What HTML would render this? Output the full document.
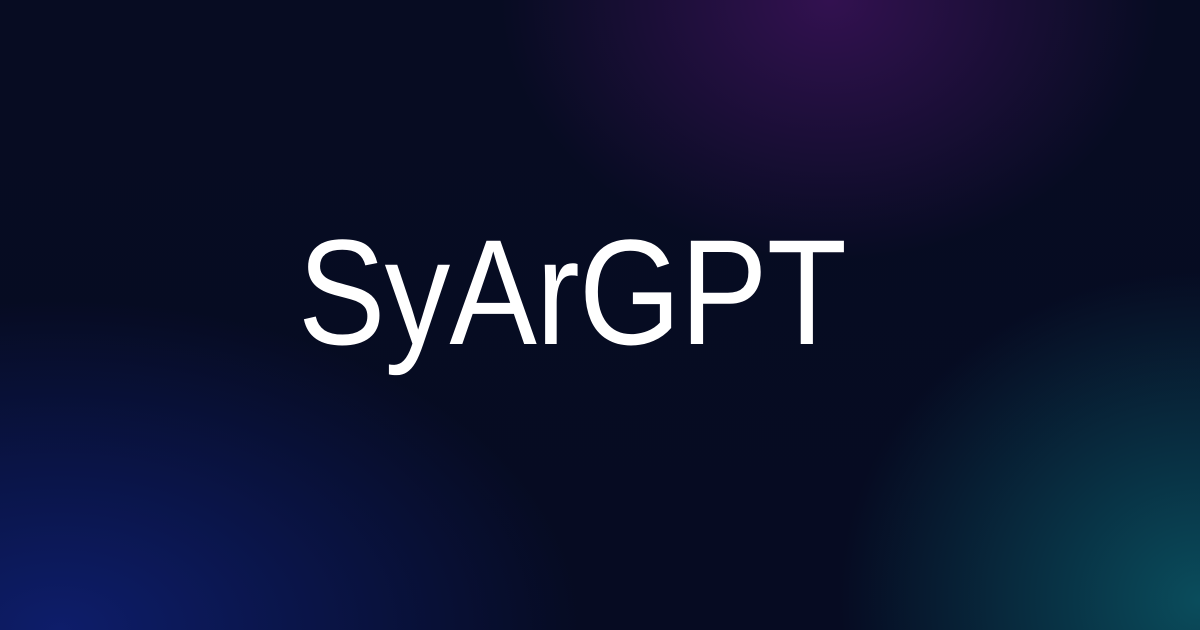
<!DOCTYPE html>
<html>
<head>
<meta charset="utf-8">
<style>
  html,body{margin:0;padding:0;}
  body{width:1200px;height:630px;overflow:hidden;position:relative;
    background:
      radial-gradient(ellipse 330px 260px at 830px 0px, rgba(58,18,88,0.85), rgba(58,18,88,0) 100%),
      radial-gradient(ellipse 520px 330px at 60px 630px, rgba(14,30,110,0.95), rgba(14,30,110,0) 100%),
      radial-gradient(ellipse 360px 330px at 1200px 600px, rgba(10,80,95,0.95), rgba(10,80,95,0) 100%),
      linear-gradient(180deg,#070c22 0%,#060b22 100%);
  }
  .title{position:absolute;left:0;width:1200px;top:197px;text-align:center;
    font-family:"Liberation Sans",sans-serif;font-size:150px;font-weight:normal;color:#ffffff;
    line-height:190px;transform:translateX(-28px) scaleX(0.875);transform-origin:600px 0;letter-spacing:-1px;}
</style>
</head>
<body>
  <div class="title">SyArGPT</div>
</body>
</html>
